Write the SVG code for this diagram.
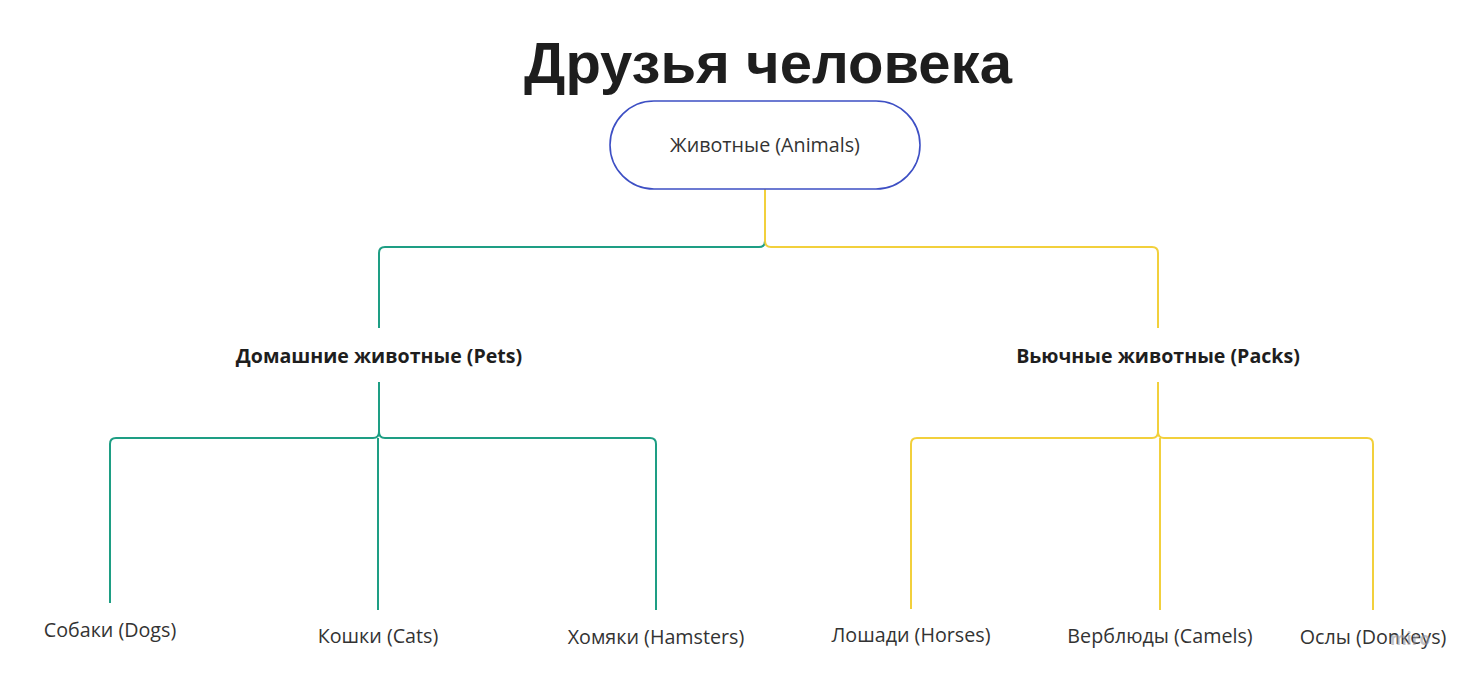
<svg xmlns="http://www.w3.org/2000/svg" width="1468" height="681" viewBox="0 0 1468 681">
<style>
.title{font-family:"Liberation Sans",Arial,sans-serif;font-weight:bold;font-size:58px;fill:#1e1e1e}
.lbl{font-family:"Open Sans","Noto Sans",sans-serif;font-size:19.7px;fill:#333333}
.cat{font-family:"Open Sans","Noto Sans",sans-serif;font-size:19.6px;font-weight:bold;fill:#1e1e1e}
.g{fill:none;stroke:#1e9e84;stroke-width:2}
.y{fill:none;stroke:#f2d03c;stroke-width:2}
</style>
<rect width="1468" height="681" fill="#ffffff"/>
<text class="title" x="768" y="83" text-anchor="middle">Друзья человека</text>
<g id="connectors">
<path class="g" d="M765,241 Q765,247 759,247 H385 Q379,247 379,253 V328"/>
<path class="y" d="M765,189 V241 Q765,247 771,247 H1152 Q1158,247 1158,253 V328"/>
<path class="g" d="M379,382 V432 Q379,438 373,438 H116 Q110,438 110,444 V603"/>
<path class="g" d="M378,438 V610"/>
<path class="g" d="M379,432 Q379,438 385,438 H650 Q656,438 656,444 V610"/>
<path class="y" d="M1158,382 V432 Q1158,438 1152,438 H917 Q911,438 911,444 V609"/>
<path class="y" d="M1160,438 V610"/>
<path class="y" d="M1158,432 Q1158,438 1164,438 H1367 Q1373,438 1373,444 V610"/>
</g>
<g id="root">
<rect x="610" y="101" width="310" height="88" rx="44" ry="44" fill="#ffffff" stroke="#3d4fc4" stroke-width="1.6"/>
<text class="lbl" x="765" y="152" text-anchor="middle">Животные (Animals)</text>
</g>
<g id="pets"><text class="cat" x="379" y="363" text-anchor="middle">Домашние животные (Pets)</text></g>
<g id="packs"><text class="cat" x="1158" y="363" text-anchor="middle">Вьючные животные (Packs)</text></g>
<g id="dogs"><text class="lbl" x="110" y="637" text-anchor="middle">Собаки (Dogs)</text></g>
<g id="cats"><text class="lbl" x="378" y="643" text-anchor="middle">Кошки (Cats)</text></g>
<g id="hamsters"><text class="lbl" x="656" y="644" text-anchor="middle">Хомяки (Hamsters)</text></g>
<g id="horses"><text class="lbl" x="911" y="642" text-anchor="middle">Лошади (Horses)</text></g>
<g id="camels"><text class="lbl" x="1160" y="643" text-anchor="middle">Верблюды (Camels)</text></g>
<g id="donkeys"><text class="lbl" x="1373" y="644" text-anchor="middle">Ослы (Donkeys)</text></g>
<text x="1410" y="645" text-anchor="middle" font-family="'Open Sans',sans-serif" font-size="17px" font-weight="bold" fill="#9a9aa4" fill-opacity="0.6">miro</text>
</svg>
